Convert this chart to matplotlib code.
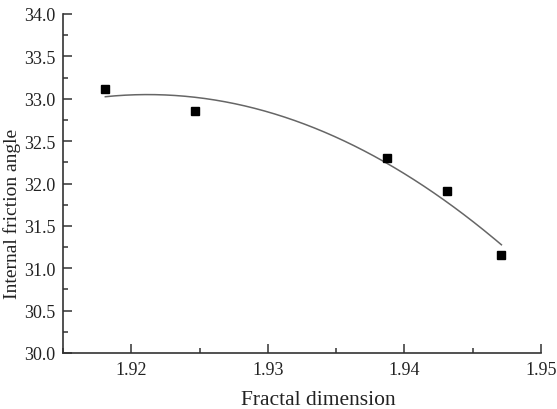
import numpy as np
import matplotlib
matplotlib.use("Agg")
import matplotlib.pyplot as plt
from matplotlib.ticker import MultipleLocator, FormatStrFormatter

fractal_dim = [1.9181, 1.9247, 1.9387, 1.9431, 1.9471]
friction_angle = [33.11, 32.86, 32.30, 31.91, 31.16]

x_label = "Fractal dimension"
y_label = "Internal friction angle"

plt.rcParams['font.family'] = ['Liberation Serif', 'DejaVu Serif']

fig = plt.figure(figsize=(5.57, 4.10), dpi=100)
ax = fig.add_axes([63/557, 1-354/410, (541-63)/557, (354-15)/410])

# quadratic fit curve
coef = np.polyfit(fractal_dim, friction_angle, 2)
xs = np.linspace(fractal_dim[0], fractal_dim[-1], 200)
ax.plot(xs, np.polyval(coef, xs), color='#666666', lw=1.1, zorder=2)
ax.plot(fractal_dim, friction_angle, 's', color='black', ms=5.2, zorder=3)

ax.set_xlim(1.915, 1.95)
ax.set_ylim(30.0, 34.0)
ax.xaxis.set_major_locator(MultipleLocator(0.01))
ax.xaxis.set_minor_locator(MultipleLocator(0.005))
ax.yaxis.set_major_locator(MultipleLocator(0.5))
ax.yaxis.set_minor_locator(MultipleLocator(0.25))
ax.xaxis.set_major_formatter(FormatStrFormatter('%.2f'))
ax.yaxis.set_major_formatter(FormatStrFormatter('%.1f'))

for s in ['top', 'right']:
    ax.spines[s].set_visible(False)
for s in ['left', 'bottom']:
    ax.spines[s].set_linewidth(1.2)
    ax.spines[s].set_color('#333333')

ax.tick_params(which='major', direction='in', length=6.5, width=1.1, color='#333333',
               labelsize=13, pad=5.5, labelcolor='#222222')
ax.tick_params(which='minor', direction='in', length=3.5, width=1.1, color='#333333')

fig.text(318/557, 1-405/410, x_label, ha='center', va='baseline', fontsize=15.5, color='#222222')
fig.text(17/557, 1-214/410, y_label, rotation=90, rotation_mode='anchor',
         ha='center', va='baseline', fontsize=14, color='#222222')

fig.savefig("out.png", dpi=100)
